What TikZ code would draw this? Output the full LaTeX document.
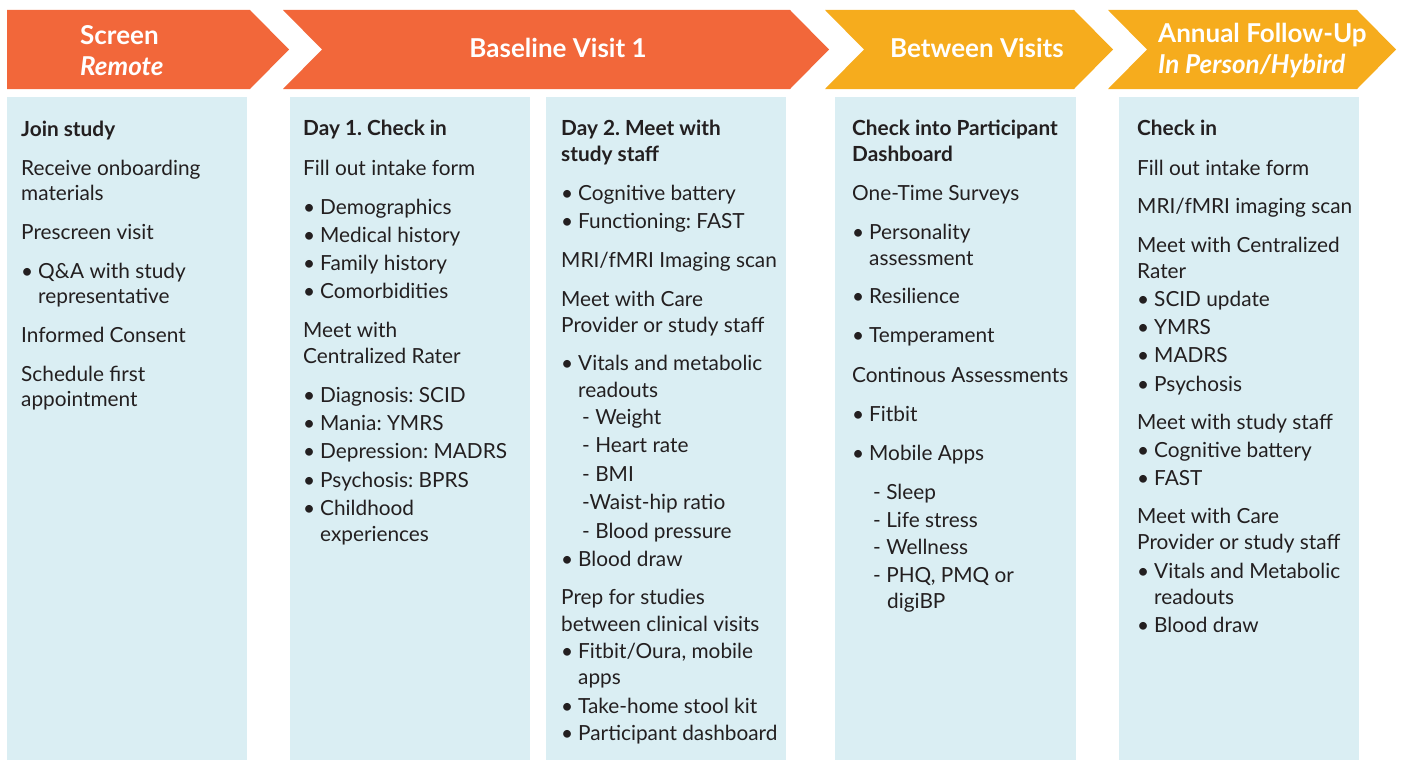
\documentclass[tikz,border=0pt]{standalone}
\usepackage{fontspec}
\setmainfont{Lato}
\frenchspacing
\definecolor{hdrorange}{HTML}{F2673A}
\definecolor{hdryellow}{HTML}{F6AC1D}
\definecolor{panelblue}{HTML}{DAEEF3}
\definecolor{bodyink}{HTML}{231F20}
\newcommand\bulmark{\makebox[17pt][l]{•}}
\tikzset{
  panel/.style={fill=panelblue, draw=none},
  hdrtext/.style={text=white, inner sep=0pt, font=\fontsize{26}{30}\selectfont\bfseries},
  hdrital/.style={hdrtext, font=\fontsize{26}{30}\selectfont\bfseries\itshape},
  lnP/.style={anchor=base west, inner sep=0pt, text=bodyink, font=\fontsize{20.8}{24}\selectfont\frenchspacing},
  lnB/.style={lnP, font=\fontsize{20.8}{24}\selectfont\bfseries\frenchspacing},
  lnU/.style={lnP, execute at begin node=\bulmark},
  lnC/.style={lnP, xshift=17pt},
  lnD/.style={lnP, xshift=21pt},
  lnE/.style={lnP, xshift=35pt}
}
\begin{document}
\begin{tikzpicture}[x=1pt,y=-1pt]
\useasboundingbox (0,0) rectangle (1405,760);

% header chevrons
\fill[hdrorange] (7,10) -- (250,10) -- (289,49.5) -- (250,89) -- (7,89) -- cycle;
\fill[hdrorange] (283,10) -- (790,10) -- (829,49.5) -- (790,89) -- (283,89) -- (322,49.5) -- cycle;
\fill[hdryellow] (825,10) -- (1074,10) -- (1113,49.5) -- (1074,89) -- (825,89) -- (864,49.5) -- cycle;
\fill[hdryellow] (1108,10) -- (1357,10) -- (1396,49.5) -- (1357,89) -- (1108,89) -- (1147,49.5) -- cycle;

\node[hdrtext, anchor=base west] (h1a) at (80,45) {Screen};
\node[hdrital, anchor=base west] (h1b) at (80,76) {Remote};
\node[hdrtext, anchor=base] (h2) at (558,58) {Baseline Visit 1};
\node[hdrtext, anchor=base] (h3) at (977,58) {Between Visits};
\node[hdrtext, anchor=base west] (h4a) at (1158,43) {Annual Follow-Up};
\node[hdrital, anchor=base west] (h4b) at (1158,74) {In Person/Hybird};

% panels
\fill[panel] (7,97) rectangle (247,760);
\fill[panel] (290,97) rectangle (530,760);
\fill[panel] (546,97) rectangle (786,760);
\fill[panel] (835,97) rectangle (1076,760);
\fill[panel] (1119,97) rectangle (1359,760);

% column 1
\foreach \yy/\kk/\tx [count=\i] in {
  136/lnB/{Join study},
  175.5/lnP/{Receive onboarding},
  200.5/lnP/{materials},
  239/lnP/{Prescreen visit},
  278/lnU/{Q\&A with study},
  303.5/lnC/{representative},
  342.5/lnP/{Informed Consent},
  381.5/lnP/{Schedule first},
  406.5/lnP/{appointment}}
  {\node[\kk] (ca-\i) at (21,\yy) {\tx};}

% column 2
\foreach \yy/\kk/\tx [count=\i] in {
  135.7/lnB/{Day 1. Check in},
  175/lnP/{Fill out intake form},
  214/lnU/{Demographics},
  242/lnU/{Medical history},
  270/lnU/{Family history},
  298.5/lnU/{Comorbidities},
  337.5/lnP/{Meet with},
  363/lnP/{Centralized Rater},
  402/lnU/{Diagnosis: SCID},
  430/lnU/{Mania: YMRS},
  458.5/lnU/{Depression: MADRS},
  487/lnU/{Psychosis: BPRS},
  515/lnU/{Childhood},
  541/lnC/{experiences}}
  {\node[\kk] (cb-\i) at (303,\yy) {\tx};}

% column 3
\foreach \yy/\kk/\tx [count=\i] in {
  135.7/lnB/{Day 2. Meet with},
  161.7/lnB/{study staff},
  200/lnU/{Cognitive battery},
  228/lnU/{Functioning: FAST},
  267.5/lnP/{MRI/fMRI Imaging scan},
  306.5/lnP/{Meet with Care},
  332/lnP/{Provider or study staff},
  370.5/lnU/{Vitals and metabolic},
  397/lnC/{readouts},
  424.5/lnD/{- Weight},
  452.5/lnD/{- Heart rate},
  481.5/lnD/{- BMI},
  509.5/lnD/{-Waist-hip ratio},
  538/lnD/{- Blood pressure},
  566/lnU/{Blood draw},
  604.5/lnP/{Prep for studies},
  631/lnP/{between clinical visits},
  658.5/lnU/{Fitbit/Oura, mobile},
  684.5/lnC/{apps},
  713/lnU/{Take-home stool kit},
  740.5/lnU/{Participant dashboard}}
  {\node[\kk] (cc-\i) at (561,\yy) {\tx};}

% column 4
\foreach \yy/\kk/\tx [count=\i] in {
  135.7/lnB/{Check into Participant},
  161.7/lnB/{Dashboard},
  200/lnP/{One-Time Surveys},
  239/lnU/{Personality},
  265/lnC/{assessment},
  303.5/lnU/{Resilience},
  342.5/lnU/{Temperament},
  382/lnP/{Continous Assessments},
  421/lnU/{Fitbit},
  460/lnU/{Mobile Apps},
  499/lnD/{- Sleep},
  527/lnD/{- Life stress},
  554.5/lnD/{- Wellness},
  582.5/lnD/{- PHQ, PMQ or},
  608.5/lnE/{digiBP}}
  {\node[\kk] (cd-\i) at (852,\yy) {\tx};}

% column 5
\foreach \yy/\kk/\tx [count=\i] in {
  135.7/lnB/{Check in},
  175/lnP/{Fill out intake form},
  213.5/lnP/{MRI/fMRI imaging scan},
  252.5/lnP/{Meet with Centralized},
  278/lnP/{Rater},
  306.5/lnU/{SCID update},
  334.5/lnU/{YMRS},
  362.5/lnU/{MADRS},
  391/lnU/{Psychosis},
  429/lnP/{Meet with study staff},
  457/lnU/{Cognitive battery},
  485.5/lnU/{FAST},
  523.5/lnP/{Meet with Care},
  549/lnP/{Provider or study staff},
  578/lnU/{Vitals and Metabolic},
  604/lnC/{readouts},
  632/lnU/{Blood draw}}
  {\node[\kk] (ce-\i) at (1137,\yy) {\tx};}
\end{tikzpicture}
\end{document}
